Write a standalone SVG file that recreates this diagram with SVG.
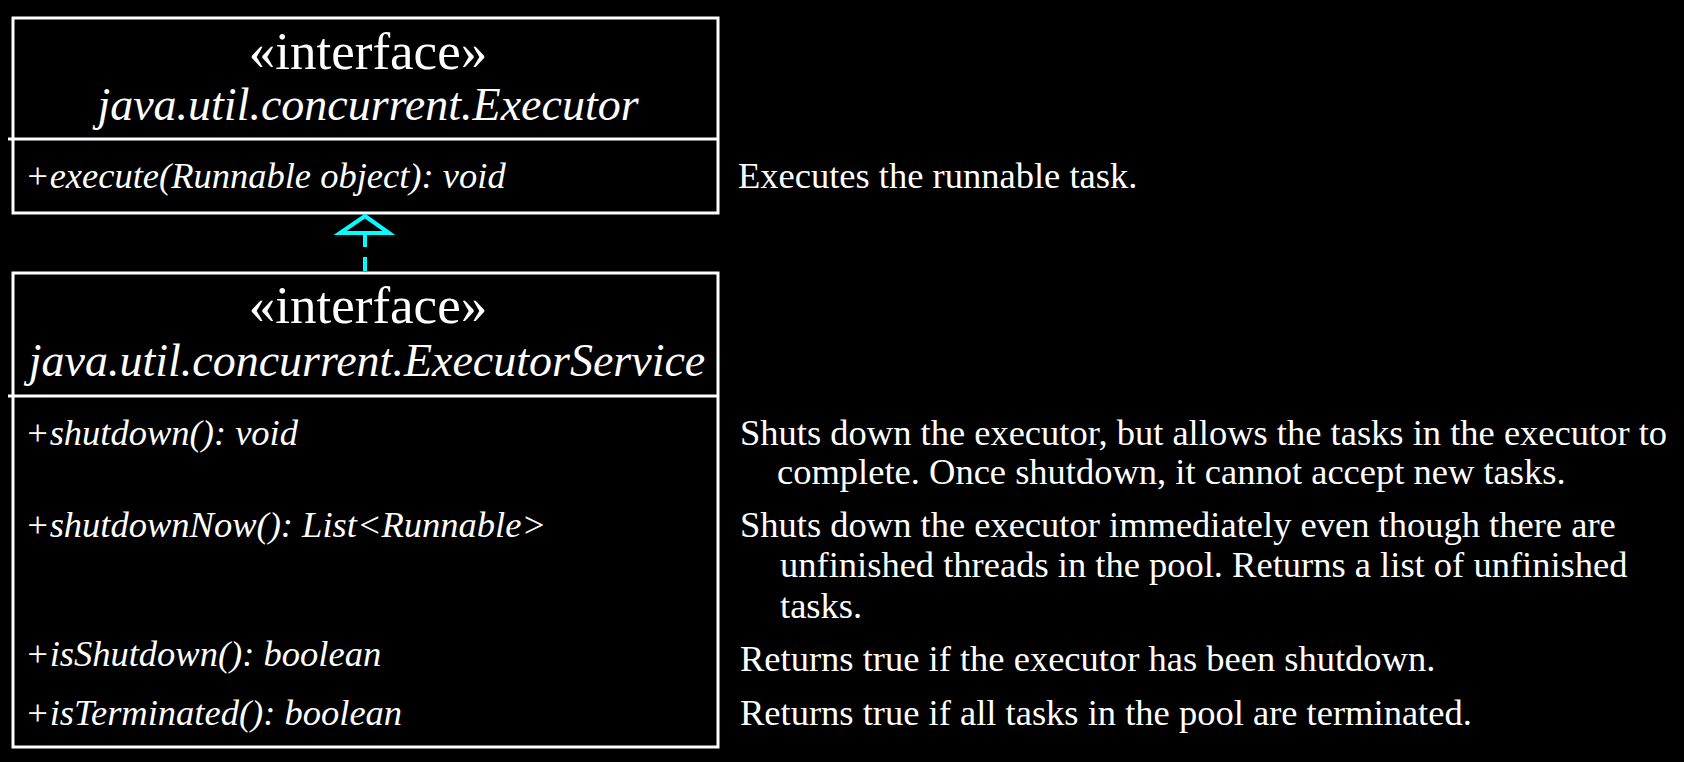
<svg xmlns="http://www.w3.org/2000/svg" width="1684" height="762" viewBox="0 0 1684 762">
  <style>
    .box { fill: #000; stroke: #fff; stroke-width: 3; }
    .rule { stroke: #fff; stroke-width: 3; }
    .stereo { font-family: "Liberation Serif", "Times New Roman", serif; font-size: 53px; fill: #fff; text-anchor: middle; }
    .name { font-family: "Liberation Serif", "Times New Roman", serif; font-size: 46px; font-style: italic; fill: #fff; text-anchor: middle; }
    .op { font-family: "Liberation Serif", "Times New Roman", serif; font-size: 36.5px; font-style: italic; fill: #fff; }
    .note { font-family: "Liberation Serif", "Times New Roman", serif; font-size: 36.5px; fill: #fff; }
    .link { stroke: #00ffff; stroke-width: 4; fill: none; }
  </style>
  <rect width="1684" height="762" fill="#000"/>

  <!-- Executor interface -->
  <g id="executor">
    <rect class="box" x="13" y="18" width="705" height="195"/>
    <line class="rule" x1="8" y1="139" x2="718" y2="139"/>
    <text class="stereo" x="368" y="69">«interface»</text>
    <text class="name" x="368" y="120">java.util.concurrent.Executor</text>
    <text class="op" x="25" y="188">+execute(Runnable object): void</text>
  </g>

  <!-- ExecutorService interface -->
  <g id="executor-service">
    <rect class="box" x="13" y="273" width="705" height="474"/>
    <line class="rule" x1="8" y1="396" x2="718" y2="396"/>
    <text class="stereo" x="368" y="323">«interface»</text>
    <text class="name" x="367" y="376">java.util.concurrent.ExecutorService</text>
    <text class="op" x="25" y="445">+shutdown(): void</text>
    <text class="op" x="25" y="537">+shutdownNow(): List&lt;Runnable&gt;</text>
    <text class="op" x="25" y="666">+isShutdown(): boolean</text>
    <text class="op" x="25" y="725">+isTerminated(): boolean</text>
  </g>

  <!-- method descriptions -->
  <g id="notes">
    <text class="note" x="738" y="188">Executes the runnable task.</text>
    <text class="note" x="740" y="445">Shuts down the executor, but allows the tasks in the executor to</text>
    <text class="note" x="777" y="484">complete. Once shutdown, it cannot accept new tasks.</text>
    <text class="note" x="740" y="537">Shuts down the executor immediately even though there are</text>
    <text class="note" x="780" y="577">unfinished threads in the pool. Returns a list of unfinished</text>
    <text class="note" x="780" y="618">tasks.</text>
    <text class="note" x="740" y="671">Returns true if the executor has been shutdown.</text>
    <text class="note" x="740" y="725">Returns true if all tasks in the pool are terminated.</text>
  </g>

  <!-- realization: ExecutorService extends Executor -->
  <g id="connectors">
    <line class="link" x1="365" y1="233" x2="365" y2="271" stroke-dasharray="14 10"/>
    <polygon class="link" points="365,216 389,233 340,233"/>
  </g>
</svg>
